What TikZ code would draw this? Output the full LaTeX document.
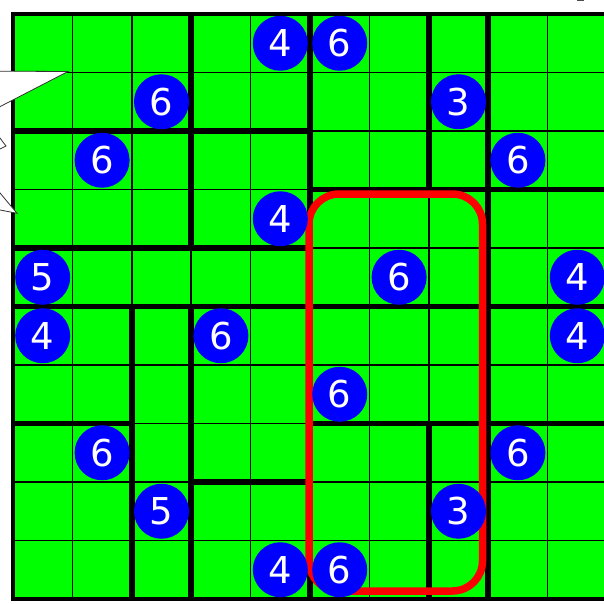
\documentclass[tikz,border=0pt]{standalone}
\usepackage{fontspec}
\newfontfamily\digitfont{DejaVu Sans}
\newcommand{\gp}[2]{({13+59.4*(#1)},{14+58.5*(#2)})}
\newcommand{\cp}[2]{({13+59.4*(#1+0.5)},{14+58.5*(#2+0.5)})}
\begin{document}
\begin{tikzpicture}[x=1pt,y=-1pt,
  thinline/.style={line width=1.5pt,black},
  thickline/.style={line width=5.5pt,black,line cap=rect},
  disc/.style={circle,fill=blue,minimum size=55pt,inner sep=0pt,text=white,
    font=\digitfont\fontsize{37}{37}\selectfont},
  redbox/.style={draw=red,line width=7.5pt,rounded corners=30pt},
  bubble/.style={fill=white,draw=black!80,line width=0.8pt,line join=miter}]
\useasboundingbox (0,0) rectangle (604,604);
\clip (0,0) rectangle (604,604);
% green board
\fill[green] \gp{0}{0} rectangle \gp{10}{10};
\begin{scope}
\clip \gp{0}{0} rectangle \gp{10}{10};
% thin grid
\foreach \i in {1,...,9} {
  \draw[thinline] \gp{\i}{0} -- \gp{\i}{10};
  \draw[thinline] \gp{0}{\i} -- \gp{10}{\i};
}
% thick region lines (horizontal)
\draw[thickline] \gp{0}{2} -- \gp{5}{2};
\draw[thickline] \gp{5}{3} -- \gp{10}{3};
\draw[thickline] \gp{0}{4} -- \gp{5}{4};
\draw[thickline] \gp{0}{5} -- \gp{10}{5};
\draw[thickline] \gp{0}{7} -- \gp{2}{7};
\draw[thickline] \gp{5}{7} -- \gp{10}{7};
\draw[thickline] \gp{3}{8} -- \gp{5}{8};
% thick region lines (vertical)
\draw[thickline] \gp{2}{5} -- \gp{2}{10};
\draw[thickline] \gp{3}{0} -- \gp{3}{4};
\draw[thickline] \gp{3}{5} -- \gp{3}{10};
\draw[thickline] \gp{5}{0} -- \gp{5}{10};
\draw[thickline] \gp{7}{0} -- \gp{7}{3};
\draw[thickline] \gp{7}{7} -- \gp{7}{10};
\draw[thickline] \gp{8}{0} -- \gp{8}{10};
\end{scope}
% border
\draw[line width=4pt,black] \gp{0}{0} rectangle \gp{10}{10};
% speech bubble fragment
\draw[bubble] (-40,71) -- (68,71.5) -- (-10,111.8) -- (-10,124.7) -- (6,146)
  -- (-10,154) -- (-10,181) -- (17,213.3) -- (-10,208) -- (-40,208) -- cycle;
\draw[black!70,line width=1pt] (577,0.5) -- (584,0.5);
% red cage
\draw[redbox] (309,194) rectangle (482.5,591);
% discs
\node[disc] (c1) at \cp{4}{0} {4};
\node[disc] (c2) at \cp{5}{0} {6};
\node[disc] (c3) at \cp{2}{1} {6};
\node[disc] (c4) at \cp{7}{1} {3};
\node[disc] (c5) at \cp{1}{2} {6};
\node[disc] (c6) at \cp{8}{2} {6};
\node[disc] (c7) at \cp{4}{3} {4};
\node[disc] (c8) at \cp{0}{4} {5};
\node[disc] (c9) at \cp{6}{4} {6};
\node[disc] (c10) at \cp{9}{4} {4};
\node[disc] (c11) at \cp{0}{5} {4};
\node[disc] (c12) at \cp{3}{5} {6};
\node[disc] (c13) at \cp{9}{5} {4};
\node[disc] (c14) at \cp{5}{6} {6};
\node[disc] (c15) at \cp{1}{7} {6};
\node[disc] (c16) at \cp{8}{7} {6};
\node[disc] (c17) at \cp{2}{8} {5};
\node[disc] (c18) at \cp{7}{8} {3};
\node[disc] (c19) at \cp{4}{9} {4};
\node[disc] (c20) at \cp{5}{9} {6};
\end{tikzpicture}
\end{document}
